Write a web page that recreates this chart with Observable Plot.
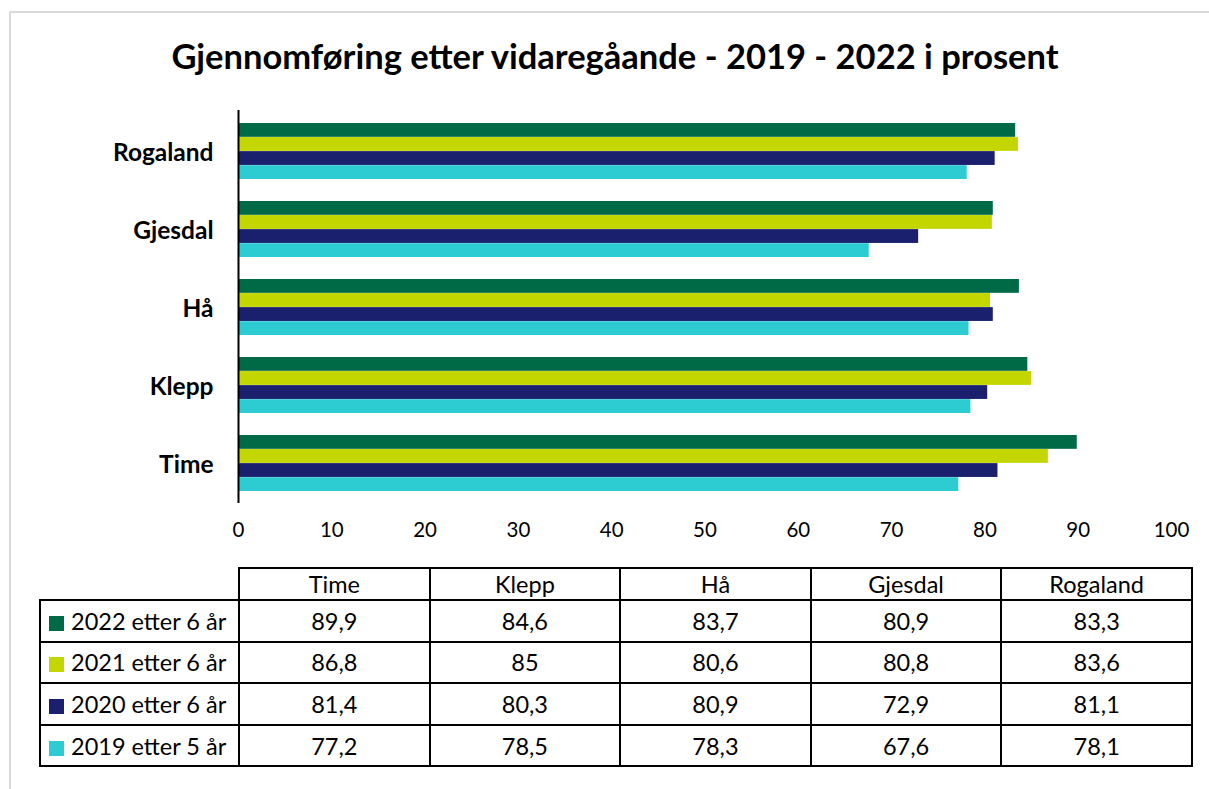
<!DOCTYPE html>
<html>
<head>
<meta charset="utf-8">
<script src="https://cdn.jsdelivr.net/npm/d3@7"></script>
<script src="https://cdn.jsdelivr.net/npm/@observablehq/plot@0.6"></script>
<style>
  body { margin: 0; background: #fff; font-family: Lato, "Open Sans", sans-serif; color: #000; }
  #wrap { position: relative; width: 1209px; height: 789px; overflow: hidden; background: #fff; }
  #frame { position: absolute; left: 9px; top: 11px; width: 1400px; height: 1000px;
           border-left: 2px solid #d9d9d9; border-top: 2px solid #d9d9d9; }
  #title { position: absolute; left: 0; width: 1230px; top: 35px; text-align: center;
           font-weight: bold; font-size: 34.5px; line-height: 42px; }
  #chart { position: absolute; left: 0; top: 100px; }
  #tbl { position: absolute; left: 39px; top: 567px; border-collapse: collapse;
         table-layout: fixed; width: 1152px; font-size: 23.5px; }
  #tbl td, #tbl th { border: 2px solid #000; padding: 0; text-align: center; font-weight: normal; }
  #tbl th.blank { border: none; border-right: 2px solid #000; border-bottom: 2px solid #000; }
  #tbl tr.head { height: 32px; }
  #tbl tr.row { height: 41.6px; }
  #tbl td.lab { text-align: left; padding-left: 8px; white-space: nowrap; }
  .sw { display: inline-block; width: 15px; height: 15px; margin-right: 7px; vertical-align: -1px; }
</style>
</head>
<body>
<div id="wrap">
  <div id="frame"></div>
  <div id="title">Gjennomføring etter vidaregåande - 2019 - 2022 i prosent</div>
  <div id="chart"></div>
</div>
<script>
// ---- Data ----
const kommuner = ["Time", "Klepp", "Hå", "Gjesdal", "Rogaland"];
const serier = ["2022 etter 6 år", "2021 etter 6 år", "2020 etter 6 år", "2019 etter 5 år"];
const v2022 = [89.9, 84.6, 83.7, 80.9, 83.3];
const v2021 = [86.8, 85, 80.6, 80.8, 83.6];
const v2020 = [81.4, 80.3, 80.9, 72.9, 81.1];
const v2019 = [77.2, 78.5, 78.3, 67.6, 78.1];
const farger = ["#006A46", "#C4D600", "#1A1F6E", "#2DCCD3"];
const xTicks = [0, 10, 20, 30, 40, 50, 60, 70, 80, 90, 100];

const verdier = [v2022, v2021, v2020, v2019];
const data = [];
serier.forEach((s, i) => kommuner.forEach((k, j) => data.push({serie: s, kommune: k, verdi: verdier[i][j]})));

// ---- Chart ----
const W = 1209, H = 460, mT = 10, mB = 57;
const padInner = 0.287, padOuter = 0.135;
const plotH = H - mT - mB;
const step = plotH / (kommuner.length - padInner + 2 * padOuter);
const bw = step * (1 - padInner);
const barH = bw / serier.length;

const chart = Plot.plot({
  width: W, height: H,
  marginLeft: 238, marginRight: 38, marginTop: mT, marginBottom: mB,
  style: {fontFamily: "Lato, 'Open Sans', sans-serif", color: "#000", background: "transparent"},
  x: {domain: [0, 100], axis: null},
  y: {domain: kommuner.slice().reverse(), paddingInner: padInner, paddingOuter: padOuter, axis: null},
  color: {domain: serier, range: farger},
  marks: [
    ...serier.map((s, i) => Plot.barX(data.filter(d => d.serie === s), {
      x: "verdi", y: "kommune", fill: "serie",
      insetTop: i * barH, insetBottom: (serier.length - 1 - i) * barH
    })),
    Plot.ruleX([0], {stroke: "#000", strokeWidth: 2}),
    Plot.axisX({ticks: xTicks, tickSize: 0, tickPadding: 19, fontSize: 20.5, label: null, tickFormat: d => String(d)}),
    Plot.axisY({tickSize: 0, tickPadding: 25, fontSize: 24.5, fontWeight: "bold", label: null, dy: 2})
  ]
});
document.getElementById("chart").appendChild(chart);

// ---- Data table ----
const fmt = v => String(v).replace(".", ",");
const tbl = document.createElement("table");
tbl.id = "tbl";
const cg = document.createElement("colgroup");
[199, 190.6, 190.6, 190.6, 190.6, 190.6].forEach(w => {
  const c = document.createElement("col"); c.style.width = w + "px"; cg.appendChild(c);
});
tbl.appendChild(cg);
const hr = document.createElement("tr"); hr.className = "head";
const blank = document.createElement("th"); blank.className = "blank"; hr.appendChild(blank);
kommuner.forEach(k => { const th = document.createElement("th"); th.textContent = k; hr.appendChild(th); });
tbl.appendChild(hr);
serier.forEach((s, i) => {
  const tr = document.createElement("tr"); tr.className = "row";
  const lab = document.createElement("td"); lab.className = "lab";
  const sw = document.createElement("span"); sw.className = "sw"; sw.style.background = farger[i];
  lab.appendChild(sw); lab.appendChild(document.createTextNode(s));
  tr.appendChild(lab);
  verdier[i].forEach(v => { const td = document.createElement("td"); td.textContent = fmt(v); tr.appendChild(td); });
  tbl.appendChild(tr);
});
document.getElementById("wrap").appendChild(tbl);
</script>
</body>
</html>
